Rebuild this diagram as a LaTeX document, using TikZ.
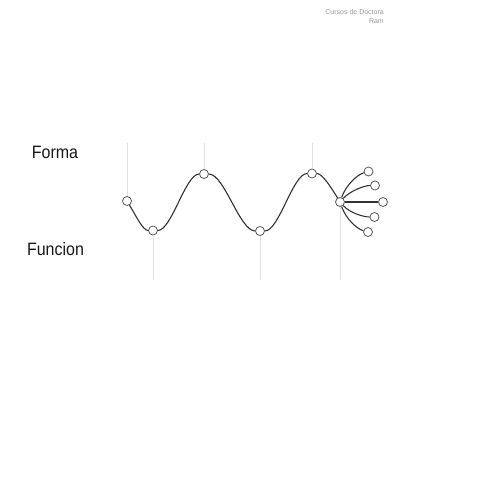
\documentclass[tikz,border=0pt]{standalone}
\usepackage{fontspec}
\usepackage{graphicx}
\setmainfont{Liberation Sans}
\begin{document}
\begin{tikzpicture}[x=1pt,y=-1pt,
  pt/.style={circle,draw=black!65,fill=white,line width=0.8pt,inner sep=0pt,minimum size=9pt},
  wave/.style={draw=black!80,line width=1.1pt},
  guide/.style={draw=black!12,line width=0.9pt},
  lbl/.style={font=\fontsize{16}{18}\selectfont,anchor=base,text=black!90},
  hdr/.style={font=\fontsize{7}{8}\selectfont,anchor=east,text=black!40,inner sep=0pt}]
\useasboundingbox[fill=white] (0,0) rectangle (480,480);
% header
\node[hdr] (h1) at (384,12) {Cursos de Doctora};
\node[hdr] (h2) at (384,21) {Ram};
% labels
\node[lbl] (forma) at (55,158) {\scalebox{1}[1.12]{Forma}};
\node[lbl] (funcion) at (55.5,255) {\scalebox{1}[1.12]{Funcion}};
% guide coordinates
\coordinate (t1) at (127,143);
\coordinate (b2) at (153,280);
\coordinate (t3) at (204,143);
\coordinate (b4) at (260,280);
\coordinate (t5) at (312,143);
\coordinate (b6) at (340,280);
% nodes
\node[pt] (n1) at (127,201) {};
\node[pt] (n2) at (153,230.5) {};
\node[pt] (n3) at (204,174) {};
\node[pt] (n4) at (260,231) {};
\node[pt] (n5) at (312,173.5) {};
\node[pt] (n6) at (340,202) {};
\node[pt] (f1) at (368.5,171.5) {};
\node[pt] (f2) at (375,185.5) {};
\node[pt] (f3) at (383,202) {};
\node[pt] (f4) at (374.5,217) {};
\node[pt] (f5) at (368,232) {};
% guides
\draw[guide] (t1) -- (n1);
\draw[guide] (n2) -- (b2);
\draw[guide] (t3) -- (n3);
\draw[guide] (n4) -- (b4);
\draw[guide] (t5) -- (n5);
\draw[guide] (n6) -- (b6);
% wave
\draw[wave] (n1) .. controls +(9,15) and +(-10,0) .. (n2);
\draw[wave] (n2) .. controls +(18.5,0) and +(-18.5,0) .. (n3);
\draw[wave] (n3) .. controls +(20.3,0) and +(-20.3,0) .. (n4);
\draw[wave] (n4) .. controls +(19,0) and +(-19,0) .. (n5);
\draw[wave] (n5) .. controls +(10,0) and +(-9,-15) .. (n6);
% fan
\draw[wave] (n6) .. controls +(6,-17) and +(-11,3) .. (f1);
\draw[wave] (n6) .. controls +(10,-11) and +(-11,0) .. (f2);
\draw[wave] (n6) -- (f3);
\draw[wave] (n6) .. controls +(10,11) and +(-11,0) .. (f4);
\draw[wave] (n6) .. controls +(6,17) and +(-11,-3) .. (f5);
\end{tikzpicture}
\end{document}
